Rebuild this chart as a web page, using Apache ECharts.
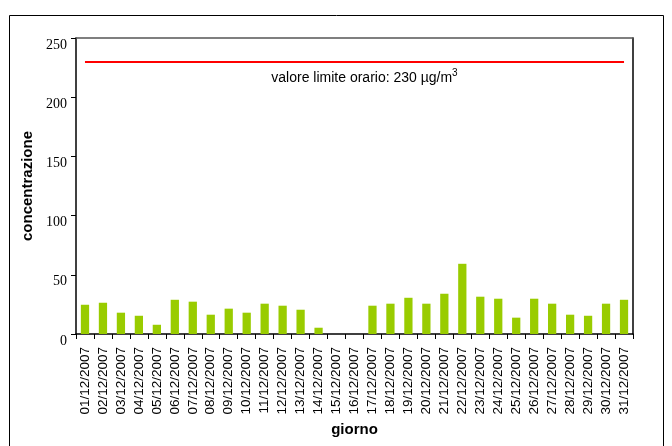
<!DOCTYPE html>
<html><head><meta charset="utf-8">
<script src="https://cdn.jsdelivr.net/npm/echarts@6/dist/echarts.min.js"></script>
<style>html,body{margin:0;padding:0;background:#fff}#c{width:672px;height:446px}</style>
</head><body><div id="c"></div>
<script>
const days = ['01/12/2007','02/12/2007','03/12/2007','04/12/2007','05/12/2007','06/12/2007','07/12/2007','08/12/2007','09/12/2007','10/12/2007','11/12/2007','12/12/2007','13/12/2007','14/12/2007','15/12/2007','16/12/2007','17/12/2007','18/12/2007','19/12/2007','20/12/2007','21/12/2007','22/12/2007','23/12/2007','24/12/2007','25/12/2007','26/12/2007','27/12/2007','28/12/2007','29/12/2007','30/12/2007','31/12/2007'];
const values = [24.7,26.4,18,15.4,7.8,28.9,27.3,16.3,21.4,18,25.6,23.9,20.5,5.3,0,0,23.9,25.6,30.6,25.6,34,59.3,31.5,29.8,13.8,29.8,25.6,16.3,15.4,25.6,28.9];
const limitValue = 230;
const yTicks = [0,50,100,150,200,250];

const chart = echarts.init(document.getElementById('c'), null, {renderer:'canvas'});
chart.setOption({
  animation:false,
  graphic:[{type:'rect',shape:{x:9.5,y:15.5,width:654,height:440},style:{fill:'none',stroke:'#000',lineWidth:1}}],
  grid:{left:76,top:38,width:557,height:296},
  xAxis:[{
    type:'category',data:days,
    axisLine:{lineStyle:{color:'#000',width:1.5}},
    axisTick:{show:true,inside:false,length:5,lineStyle:{color:'#000'}},
    axisLabel:{rotate:90,fontFamily:'Liberation Sans, Arial',fontSize:13.5,color:'#000',margin:13,interval:0},
    name:'giorno',nameLocation:'middle',nameGap:87,
    nameTextStyle:{fontFamily:'Liberation Sans, Arial',fontWeight:'bold',fontSize:15,color:'#000'}
  },{
    type:'category',data:days,position:'top',
    axisLine:{show:true,onZero:false,lineStyle:{color:'#555',width:1.5}},axisTick:{show:false},axisLabel:{show:false}
  }],
  yAxis:[{
    type:'value',min:0,max:250,interval:50,
    axisLine:{show:true,lineStyle:{color:'#000',width:1.5}},
    axisTick:{show:true,length:5,lineStyle:{color:'#000'}},
    splitLine:{show:false},
    axisLabel:{fontFamily:'Liberation Serif, Times New Roman',fontSize:14,color:'#000',margin:9,verticalAlign:'top',
      formatter:v=>yTicks.includes(v)?String(v):''},
    name:'concentrazione',nameLocation:'middle',nameGap:40,nameRotate:90,
    nameTextStyle:{fontFamily:'Liberation Sans, Arial',fontWeight:'bold',fontSize:15,color:'#000'}
  },{
    type:'value',min:0,max:250,position:'right',
    axisLine:{show:true,onZero:false,lineStyle:{color:'#000',width:1.5}},axisTick:{show:false},axisLabel:{show:false},splitLine:{show:false}
  }],
  series:[{
    type:'bar',data:values,barCategoryGap:'54%',
    itemStyle:{color:'#99CC00'},
    markLine:{
      symbol:['none','none'],silent:true,
      lineStyle:{color:'#FF0000',width:2,type:'solid'},
      label:{show:true,position:'insideMiddleBottom',distance:7,offset:[10,0],
        formatter:'{a|valore limite orario: '+limitValue+' µg/m}{s|3}',
        rich:{a:{fontFamily:'Liberation Sans, Arial',fontSize:14,color:'#000'},
              s:{fontFamily:'Liberation Sans, Arial',fontSize:10,color:'#000',verticalAlign:'top',padding:[0,0,8,0]}}},
      data:[[{coord:[days[0],limitValue]},{coord:[days[days.length-1],limitValue]}]]
    }
  }]
});
</script></body></html>
